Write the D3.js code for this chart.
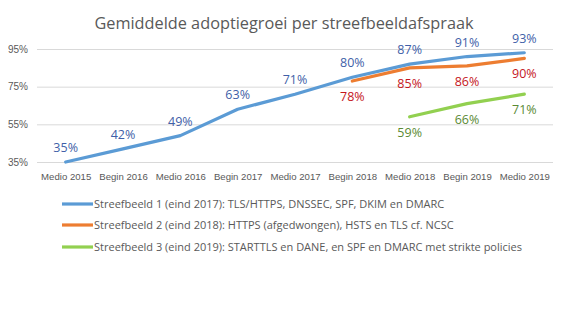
<!DOCTYPE html>
<html><head><meta charset="utf-8">
<script src="https://cdn.jsdelivr.net/npm/d3@7"></script>
<style>body{margin:0;background:#fff}svg{display:block;font-family:"Open Sans",sans-serif}</style>
</head><body><svg id="c" width="567" height="332"></svg>
<script>
const categories = ["Medio 2015","Begin 2016","Medio 2016","Begin 2017","Medio 2017","Begin 2018","Medio 2018","Begin 2019","Medio 2019"];
const series1 = [35,42,49,63,71,80,87,91,93];
const series2 = [null,null,null,null,null,78,85,86,90];
const series3 = [null,null,null,null,null,null,59,66,71];
const seriesNames = [
  "Streefbeeld 1 (eind 2017): TLS/HTTPS, DNSSEC, SPF, DKIM en DMARC",
  "Streefbeeld 2 (eind 2018): HTTPS (afgedwongen), HSTS en TLS cf. NCSC",
  "Streefbeeld 3 (eind 2019): STARTTLS en DANE, en SPF en DMARC met strikte policies"
];
const yTicks = [35,55,75,95];
const title = "Gemiddelde adoptiegroei per streefbeeldafspraak";

const svg = d3.select("#c");
const L=37, R=553, T=49, B=162;
const x = d3.scalePoint().domain(categories).range([L,R]).padding(0.5);
const y = d3.scaleLinear().domain([35,95]).range([B,T]);

svg.append("text").attr("x",284).attr("y",29).attr("text-anchor","middle")
  .attr("font-size",16.3).attr("fill","#595959").text(title);

const ya = svg.append("g").attr("transform",`translate(${L},0)`)
  .call(d3.axisLeft(y).tickValues(yTicks).tickSize(-(R-L)).tickFormat(d=>d+"%"));
ya.select(".domain").remove();
ya.selectAll(".tick line").attr("stroke","#d9d9d9");
ya.selectAll(".tick text").attr("fill","#595959").attr("font-size",10).attr("x",-9);

const xa = svg.append("g").attr("transform",`translate(0,${B})`)
  .call(d3.axisBottom(x).tickSize(0));
xa.select(".domain").remove();
xa.selectAll(".tick text").attr("fill","#595959").attr("font-size",9.6).attr("dy","1.6em");

const defs = [
  {vals:series1, line:"#5B9BD5", lab:"#3F5FA8", dy:-10},
  {vals:series2, line:"#ED7D31", lab:"#C5161D", dy:20},
  {vals:series3, line:"#92D050", lab:"#5A8A34", dy:20}
];
const line = d3.line().defined(d=>d.v!=null).x(d=>x(d.c)).y(d=>y(d.v));
defs.forEach(s=>{
  const pts = categories.map((c,i)=>({c,v:s.vals[i]}));
  svg.append("path").datum(pts).attr("d",line).attr("fill","none")
    .attr("stroke",s.line).attr("stroke-width",3.2).attr("stroke-linecap","round").attr("stroke-linejoin","round");
});
defs.forEach(s=>{
  const pts = categories.map((c,i)=>({c,v:s.vals[i]})).filter(d=>d.v!=null);
  svg.append("g").selectAll("text").data(pts).join("text")
    .attr("x",d=>x(d.c)).attr("y",d=>y(d.v)+s.dy).attr("text-anchor","middle")
    .attr("font-size",12.5).attr("fill",s.lab).text(d=>d.v+"%");
});

const leg = svg.append("g");
const legY = [204,225,247];
defs.forEach((s,i)=>{
  leg.append("line").attr("x1",62).attr("x2",93).attr("y1",legY[i]).attr("y2",legY[i])
    .attr("stroke",s.line).attr("stroke-width",3.2);
  leg.append("text").attr("x",94).attr("y",legY[i]+4).attr("font-size",11)
    .attr("fill","#595959").text(seriesNames[i]);
});
</script></body></html>
